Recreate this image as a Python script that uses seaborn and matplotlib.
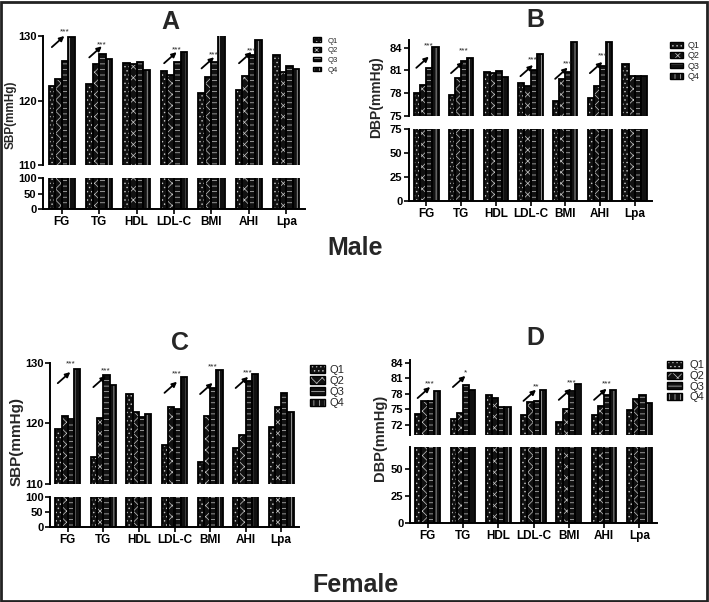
import numpy as np
import pandas as pd
import matplotlib
matplotlib.use("Agg")
import matplotlib.pyplot as plt
import seaborn as sns
from matplotlib.patches import Patch, Rectangle

# ---------------- data ----------------
categories = ["FG", "TG", "HDL", "LDL-C", "BMI", "AHI", "Lpa"]
quartiles = ["Q1", "Q2", "Q3", "Q4"]

# Panel A: Male SBP
male_sbp_q1 = [122.3, 122.5, 125.8, 124.5, 121.2, 121.6, 127.0]
male_sbp_q2 = [123.3, 125.6, 125.6, 123.9, 123.7, 123.8, 124.4]
male_sbp_q3 = [126.2, 127.2, 126.0, 126.0, 125.9, 127.1, 125.3]
male_sbp_q4 = [129.9, 126.5, 124.7, 127.5, 131.0, 129.4, 124.9]

# Panel B: Male DBP
male_dbp_q1 = [78.0, 77.7, 80.8, 79.3, 77.0, 77.4, 81.8]
male_dbp_q2 = [79.1, 80.0, 80.7, 79.0, 79.9, 78.9, 80.2]
male_dbp_q3 = [81.3, 82.2, 80.9, 81.0, 80.8, 81.6, 80.2]
male_dbp_q4 = [84.1, 82.6, 80.1, 83.2, 84.8, 84.7, 80.2]

# Panel C: Female SBP
female_sbp_q1 = [119.1, 114.5, 124.8, 116.5, 113.6, 116.0, 119.5]
female_sbp_q2 = [121.3, 120.9, 121.9, 122.8, 121.2, 118.1, 122.7]
female_sbp_q3 = [120.7, 128.0, 121.0, 122.4, 125.9, 127.1, 125.1]
female_sbp_q4 = [129.0, 126.3, 121.5, 127.7, 128.8, 128.1, 121.9]

# Panel D: Female DBP
female_dbp_q1 = [74.1, 73.2, 77.7, 73.8, 72.5, 73.9, 74.9]
female_dbp_q2 = [76.6, 74.3, 77.3, 76.5, 75.1, 75.6, 77.1]
female_dbp_q3 = [76.6, 79.8, 75.5, 76.7, 78.6, 77.8, 77.7]
female_dbp_q4 = [78.6, 78.8, 75.5, 78.8, 79.9, 78.8, 76.2]

# trend annotations: (category, stars, arrow tip value, stars value)
annot_a = [("FG", "***", 130.0, 131.1), ("TG", "***", 128.4, 129.1),
           ("LDL-C", "***", 127.5, 128.3), ("BMI", "***", 126.7, 127.5),
           ("AHI", "***", 127.5, 128.1)]
annot_b = [("FG", "***", 82.8, 84.65), ("TG", "***", 82.1, 83.9),
           ("LDL-C", "***", 81.7, 82.8), ("BMI", "***", 81.35, 82.3),
           ("AHI", "***", 82.1, 83.3)]
annot_c = [("FG", "***", 128.5, 130.3), ("TG", "***", 127.85, 129.2),
           ("LDL-C", "***", 126.9, 128.7), ("BMI", "***", 126.7, 129.8),
           ("AHI", "***", 127.7, 128.8)]
annot_d = [("FG", "***", 79.35, 80.5), ("TG", "*", 81.5, 82.6),
           ("LDL-C", "**", 78.8, 79.9), ("BMI", "***", 79.0, 80.7),
           ("AHI", "***", 79.0, 80.5)]

# ---------------- style ----------------
sns.set_style("ticks")
plt.rcParams["font.family"] = ["Liberation Sans", "DejaVu Sans"]
plt.rcParams["hatch.linewidth"] = 0.5

W, H = 709, 602
fig = plt.figure(figsize=(W / 100, H / 100), dpi=100)
fig.patch.set_facecolor("white")


def rect(x0, y0, x1, y1):
    return [x0 / W, 1 - y1 / H, (x1 - x0) / W, (y1 - y0) / H]


hatches = ["....", "xxx", "---", "|||"]
hatch_col = "#c8c8c8"


def make_df(q1, q2, q3, q4):
    rows = []
    for q, vals in zip(quartiles, [q1, q2, q3, q4]):
        for c, v in zip(categories, vals):
            rows.append((c, q, v))
    return pd.DataFrame(rows, columns=["Variable", "Quartile", "Value"])


def draw_bars(ax, df):
    sns.barplot(data=df, x="Variable", y="Value", hue="Quartile",
                order=categories, hue_order=quartiles,
                palette=["#111111"] * 4, saturation=1, width=0.7,
                edgecolor=hatch_col, linewidth=0, errorbar=None,
                legend=False, ax=ax)
    for cont, h in zip(ax.containers, hatches):
        for bar in cont:
            bar.set_hatch(h)
            ax.add_patch(Rectangle(bar.get_xy(), bar.get_width(), bar.get_height(),
                                   fill=False, edgecolor="black", lw=1.3,
                                   zorder=bar.get_zorder() + 0.1))


def style_axis(ax, tick_fs):
    for sp in ["top", "right"]:
        ax.spines[sp].set_visible(False)
    for sp in ["left", "bottom"]:
        ax.spines[sp].set_linewidth(1.4)
        ax.spines[sp].set_color("black")
    ax.tick_params(axis="both", length=3.5, width=1.2, colors="black",
                   labelsize=tick_fs, pad=1.2)
    for lbl in ax.get_yticklabels():
        lbl.set_fontweight("bold")
    ax.set_xlabel("")
    ax.set_ylabel("")


def panel(df, up_box, low_box, up_lim, up_ticks, low_lim, low_ticks,
          title, title_xy, ylabel, ylabel_xy, ylabel_fs,
          leg_xy, leg_fs, leg_hl, leg_hh, leg_ls, leg_tp, annots):
    axu = fig.add_axes(rect(*up_box))
    axl = fig.add_axes(rect(*low_box))
    for ax in (axu, axl):
        ax.set_facecolor("none")
        draw_bars(ax, df)
        ax.set_xlim(-0.5, 6.5)
    axu.set_ylim(*up_lim)
    axu.set_yticks(up_ticks)
    axl.set_ylim(*low_lim)
    axl.set_yticks(low_ticks)
    style_axis(axu, 8)
    style_axis(axl, 8)
    axu.spines["bottom"].set_visible(False)
    axu.set_xticks([])
    axl.set_xticks(range(len(categories)))
    axl.set_xticklabels(categories, fontweight="bold", fontsize=8.5)

    # annotations
    for cat, stars, tip, sv in annots:
        xi = categories.index(cat) + 0.07
        axu.annotate("", xy=(xi, tip), xytext=(-9, -8), textcoords="offset points",
                     arrowprops=dict(arrowstyle="-|>", color="black", lw=1.3,
                                     mutation_scale=7, shrinkA=0, shrinkB=0),
                     annotation_clip=False)
        axu.annotate(stars, xy=(xi, sv), xytext=(0, -3.2), textcoords="offset points",
                     ha="center", va="baseline", fontsize=6, color="#222222",
                     annotation_clip=False)

    fig.text(title_xy[0] / W, 1 - title_xy[1] / H, title, ha="center", va="center",
             fontsize=18, fontweight="bold")
    fig.text(ylabel_xy[0] / W, 1 - ylabel_xy[1] / H, ylabel, rotation=90,
             ha="center", va="center", fontsize=ylabel_fs, fontweight="bold")

    handles = [(Patch(facecolor="#111111", edgecolor=hatch_col, hatch=h, lw=0),
                Patch(fill=False, edgecolor="black", lw=1.0)) for h in hatches]
    fig.legend(handles, quartiles, loc="upper left",
               bbox_to_anchor=(leg_xy[0] / W, 1 - leg_xy[1] / H),
               frameon=False, borderpad=0, borderaxespad=0, fontsize=leg_fs,
               handlelength=leg_hl, handleheight=leg_hh, labelspacing=leg_ls,
               handletextpad=leg_tp)


df_a = make_df(male_sbp_q1, male_sbp_q2, male_sbp_q3, male_sbp_q4)
df_b = make_df(male_dbp_q1, male_dbp_q2, male_dbp_q3, male_dbp_q4)
df_c = make_df(female_sbp_q1, female_sbp_q2, female_sbp_q3, female_sbp_q4)
df_d = make_df(female_dbp_q1, female_dbp_q2, female_dbp_q3, female_dbp_q4)

panel(df_a, (43, 36, 305, 165), (43, 178, 305, 209), (110, 130), [110, 120, 130],
      (0, 100), [0, 50, 100], "A", (170, 22), "SBP(mmHg)", (11, 115), 8.5,
      (313, 37.5), 5.5, 1.05, 0.55, 0.35, 0.8, annot_a)
panel(df_b, (409, 40, 652, 116), (409, 129, 652, 201), (75, 85), [75, 78, 81, 84],
      (0, 75), [0, 25, 50, 75], "B", (535, 20), "DBP(mmHg)", (376, 97), 10,
      (670, 41), 6.5, 1.45, 0.55, 0.15, 0.55, annot_b)
panel(df_c, (50, 363, 299, 484), (50, 497, 299, 527), (110, 130), [110, 120, 130],
      (0, 100), [0, 50, 100], "C", (180, 343), "SBP(mmHg)", (17, 442), 11,
      (310, 365), 8, 1.35, 0.7, 0.1, 0.45, annot_c)
panel(df_d, (410, 360, 657, 435), (410, 447, 657, 523), (70, 84.6), [72, 75, 78, 81, 84],
      (0, 70), [0, 25, 50], "D", (535, 338), "DBP(mmHg)", (380, 438), 10.5,
      (667, 360.5), 8, 1.35, 0.63, 0.05, 0.7, annot_d)

fig.text(355 / W, 1 - 248 / H, "Male", ha="center", va="center",
         fontsize=18, fontweight="bold")
fig.text(355 / W, 1 - 585 / H, "Female", ha="center", va="center",
         fontsize=18, fontweight="bold")

fig.add_artist(Rectangle((0.0015, 0.002), 0.996, 0.995, transform=fig.transFigure,
                         fill=False, lw=2, edgecolor="#222222"))

fig.savefig("out.png", dpi=100)
